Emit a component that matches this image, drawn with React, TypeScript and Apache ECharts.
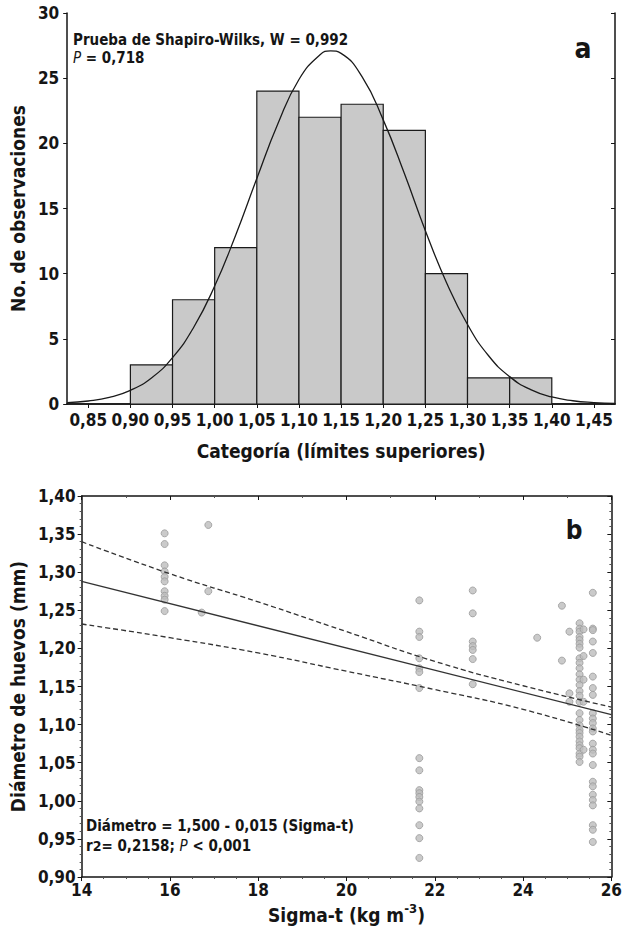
import React, { useEffect, useRef } from "react";
import * as echarts from "echarts";

// ---------- Panel a: histogram ----------
const BIN_LOWER = [0.9, 0.95, 1.0, 1.05, 1.1, 1.15, 1.2, 1.25, 1.3, 1.35];
const BIN_UPPER = [0.95, 1.0, 1.05, 1.1, 1.15, 1.2, 1.25, 1.3, 1.35, 1.4];
const BIN_COUNTS = [3, 8, 12, 24, 22, 23, 21, 10, 2, 2];
const HIST_X_TICKS = [0.85, 0.9, 0.95, 1.0, 1.05, 1.1, 1.15, 1.2, 1.25, 1.3, 1.35, 1.4, 1.45];
// fitted normal curve
const CURVE_X = [0.825, 0.85, 0.875, 0.9, 0.925, 0.95, 0.975, 1.0, 1.025, 1.05, 1.075, 1.1, 1.125, 1.1375, 1.15, 1.175, 1.2, 1.225, 1.25, 1.275, 1.3, 1.325, 1.35, 1.375, 1.4, 1.425, 1.45, 1.475];
const CURVE_Y = [0.1, 0.23, 0.51, 1.05, 2.0, 3.56, 5.87, 9.05, 12.97, 17.3, 21.5, 24.9, 26.8, 27.1, 26.9, 25.1, 21.8, 17.7, 13.3, 9.33, 6.1, 3.7, 2.1, 1.1, 0.54, 0.25, 0.11, 0.04];

// ---------- Panel b: scatter ----------
const COLUMN_SIGMA = [15.88, 16.87, 16.72, 21.65, 22.86, 24.32, 24.88, 25.05, 25.28, 25.37, 25.58];
const COLUMN_DIAM = [
  [1.351, 1.337, 1.309, 1.301, 1.294, 1.288, 1.275, 1.269, 1.264, 1.249],
  [1.362, 1.275],
  [1.247],
  [1.263, 1.222, 1.215, 1.187, 1.174, 1.169, 1.148, 1.056, 1.04, 1.014, 1.01, 1.005, 0.999, 0.99, 0.968, 0.951, 0.925],
  [1.276, 1.246, 1.209, 1.203, 1.198, 1.186, 1.153],
  [1.214],
  [1.256, 1.184],
  [1.222, 1.141, 1.13],
  [1.233, 1.226, 1.222, 1.215, 1.211, 1.206, 1.201, 1.187, 1.181, 1.174, 1.166, 1.159, 1.152, 1.144, 1.138, 1.13, 1.115, 1.106, 1.099, 1.093, 1.089, 1.084, 1.078, 1.073, 1.069, 1.062, 1.058, 1.051],
  [1.225, 1.19, 1.159, 1.13, 1.067],
  [1.273, 1.226, 1.224, 1.209, 1.194, 1.163, 1.148, 1.139, 1.115, 1.108, 1.102, 1.095, 1.091, 1.075, 1.067, 1.062, 1.047, 1.025, 1.019, 1.008, 1.001, 0.994, 0.968, 0.962, 0.946],
];
const REG_X = [14, 26];
const REG_Y = [1.288, 1.113];
const BAND_X = [14, 16, 18, 20, 22, 24, 26];
const BAND_UPPER = [1.34, 1.298, 1.261, 1.222, 1.183, 1.151, 1.123];
const BAND_LOWER = [1.232, 1.214, 1.194, 1.17, 1.146, 1.12, 1.086];

const FONT = "'Liberation Sans Narrow', 'Arial Narrow', 'DejaVu Sans Condensed', 'Roboto', sans-serif";
const INK = "#151515";

const comma = (v: number, d: number) => v.toFixed(d).replace(".", ",");

export default function App() {
  const ref = useRef<HTMLDivElement>(null);
  useEffect(() => {
    if (!ref.current) return;
    const chart = echarts.init(ref.current, null, { renderer: "svg" });

    const histData = BIN_COUNTS.map((c, i) => [BIN_LOWER[i], BIN_UPPER[i], c]);
    const curveData = CURVE_X.map((x, i) => [x, CURVE_Y[i]]);
    const scatterData: number[][] = [];
    COLUMN_SIGMA.forEach((s, i) => COLUMN_DIAM[i].forEach((d) => scatterData.push([s, d])));
    const regData = REG_X.map((x, i) => [x, REG_Y[i]]);
    const upData = BAND_X.map((x, i) => [x, BAND_UPPER[i]]);
    const loData = BAND_X.map((x, i) => [x, BAND_LOWER[i]]);

    const axisLine = { show: true, lineStyle: { color: INK, width: 1.5 } };
    const lblStyle = { color: INK, fontFamily: FONT, fontWeight: "bold" as const, fontSize: 17 };
    const nameStyle = { color: INK, fontFamily: FONT, fontWeight: "bold" as const, fontSize: 19 };

    chart.setOption({
      animation: false,
      backgroundColor: "#ffffff",
      grid: [
        { left: 64, top: 13, width: 551, height: 391 },
        { left: 74, top: 496, width: 541, height: 381 },
      ],
      xAxis: [
        {
          gridIndex: 0, type: "value", position: "bottom", min: 0.825, max: 1.475,
          axisLine, splitLine: { show: false },
          axisTick: { show: true, inside: false, length: 3, customValues: HIST_X_TICKS, lineStyle: { color: INK } },
          axisLabel: { ...lblStyle, margin: 7, customValues: HIST_X_TICKS, formatter: (v: number) => comma(v, 2) },
          name: "Categoría (límites superiores)", nameLocation: "middle", nameGap: 37, nameTextStyle: nameStyle,
        },
        {
          gridIndex: 0, type: "value", position: "top", min: 0.825, max: 1.475,
          axisLine, splitLine: { show: false },
          axisTick: { show: true, inside: true, length: 4, customValues: HIST_X_TICKS, lineStyle: { color: INK } },
          axisLabel: { show: false },
        },
        {
          gridIndex: 1, type: "value", position: "bottom", min: 14, max: 26, interval: 2,
          axisLine, splitLine: { show: false },
          axisTick: { show: true, inside: false, length: 4, lineStyle: { color: INK } },
          minorTick: { show: true, splitNumber: 4, length: 2, lineStyle: { color: "#555" } },
          axisLabel: { ...lblStyle, margin: 4 },
          name: "Sigma-t (kg m{sup|-3})",
          nameLocation: "middle", nameGap: 25,
          nameTextStyle: {
            ...nameStyle,
            rich: { sup: { color: INK, fontFamily: FONT, fontWeight: "bold", fontSize: 13, verticalAlign: "top", padding: [0, 0, 12, 0] } },
          },
        },
        {
          gridIndex: 1, type: "value", position: "top", min: 14, max: 26, interval: 2,
          axisLine, splitLine: { show: false },
          axisTick: { show: true, inside: true, length: 4, lineStyle: { color: INK } },
          minorTick: { show: true, splitNumber: 2, length: 2, lineStyle: { color: "#555" } },
          axisLabel: { show: false },
        },
      ],
      yAxis: [
        {
          gridIndex: 0, type: "value", position: "left", min: 0, max: 30, interval: 5,
          axisLine, splitLine: { show: false },
          axisTick: { show: true, inside: false, length: 4, lineStyle: { color: INK } },
          axisLabel: { ...lblStyle, margin: 8 },
          name: "No. de observaciones", nameLocation: "middle", nameGap: 31, nameRotate: 90, nameTextStyle: nameStyle,
        },
        {
          gridIndex: 0, type: "value", position: "right", min: 0, max: 30, interval: 5,
          axisLine, splitLine: { show: false },
          axisTick: { show: true, inside: true, length: 4, lineStyle: { color: INK } },
          axisLabel: { show: false },
        },
        {
          gridIndex: 1, type: "value", position: "left", min: 0.9, max: 1.4, interval: 0.05,
          axisLine, splitLine: { show: false },
          axisTick: { show: true, inside: false, length: 4, lineStyle: { color: INK } },
          minorTick: { show: true, splitNumber: 5, length: 2, lineStyle: { color: "#555" } },
          axisLabel: { ...lblStyle, margin: 6, formatter: (v: number) => comma(v, 2) },
          name: "Diámetro de huevos (mm)", nameLocation: "middle", nameGap: 44, nameRotate: 90, nameTextStyle: nameStyle,
        },
        {
          gridIndex: 1, type: "value", position: "right", min: 0.9, max: 1.4, interval: 0.05,
          axisLine, splitLine: { show: false },
          axisTick: { show: true, inside: true, length: 4, lineStyle: { color: INK } },
          minorTick: { show: true, splitNumber: 5, length: 2, lineStyle: { color: "#555" } },
          axisLabel: { show: false },
        },
      ],
      series: [
        {
          type: "custom", xAxisIndex: 0, yAxisIndex: 0, data: histData, z: 2,
          encode: { x: [0, 1], y: 2 },
          renderItem: (_p: any, api: any) => {
            const a = api.coord([api.value(0), api.value(2)]);
            const b = api.coord([api.value(1), 0]);
            return {
              type: "rect",
              shape: { x: a[0], y: a[1], width: b[0] - a[0], height: b[1] - a[1] },
              style: { fill: "#c9c9c9", stroke: "#1a1a1a", lineWidth: 1.2 },
            };
          },
        },
        {
          type: "line", xAxisIndex: 0, yAxisIndex: 0, data: curveData, smooth: true, showSymbol: false, z: 3,
          lineStyle: { color: "#1a1a1a", width: 1.3 },
        },
        {
          type: "scatter", xAxisIndex: 2, yAxisIndex: 2, data: scatterData, symbolSize: 7, z: 2,
          itemStyle: { color: "#bdbdbd", borderColor: "#9a9a9a", borderWidth: 1 },
        },
        {
          type: "line", xAxisIndex: 2, yAxisIndex: 2, data: regData, showSymbol: false, z: 3,
          lineStyle: { color: "#333", width: 1.3 },
        },
        {
          type: "line", xAxisIndex: 2, yAxisIndex: 2, data: upData, smooth: true, showSymbol: false, z: 3,
          lineStyle: { color: "#333", width: 1.3, type: [5, 3] },
        },
        {
          type: "line", xAxisIndex: 2, yAxisIndex: 2, data: loData, smooth: true, showSymbol: false, z: 3,
          lineStyle: { color: "#333", width: 1.3, type: [5, 3] },
        },
      ],
      graphic: [
        {
          type: "text", x: 73, y: 40, z: 10,
          style: { text: "Prueba de Shapiro-Wilks, W = 0,992", fill: INK, font: `bold 15px ${FONT}`, verticalAlign: "middle" },
        },
        {
          type: "text", x: 73, y: 58, z: 10,
          style: {
            text: "{i|P}{n| = 0,718}",
            verticalAlign: "middle",
            rich: {
              i: { fill: INK, fontFamily: FONT, fontSize: 15, fontStyle: "italic", lineHeight: 15 },
              n: { fill: INK, fontFamily: FONT, fontSize: 15, fontWeight: "bold", lineHeight: 15 },
            },
          },
        },
        {
          type: "text", x: 583, y: 48, z: 10,
          style: { text: "a", fill: INK, font: `bold 28px ${FONT}`, align: "center", verticalAlign: "middle" },
        },
        {
          type: "text", x: 574, y: 530, z: 10,
          style: { text: "b", fill: INK, font: `bold 26px ${FONT}`, align: "center", verticalAlign: "middle" },
        },
        {
          type: "text", x: 86, y: 826, z: 10,
          style: { text: "Diámetro = 1,500 - 0,015 (Sigma-t)", fill: INK, font: `bold 15px ${FONT}`, verticalAlign: "middle" },
        },
        {
          type: "text", x: 86, y: 846, z: 10,
          style: {
            text: "{n|r}{s|2}{n|= 0,2158; }{i|P}{n| < 0,001}",
            verticalAlign: "middle",
            rich: {
              n: { fill: INK, fontFamily: FONT, fontSize: 15, fontWeight: "bold", lineHeight: 15 },
              s: { fill: INK, fontFamily: FONT, fontSize: 14, fontWeight: "bold", lineHeight: 15, verticalAlign: "top" },
              i: { fill: INK, fontFamily: FONT, fontSize: 15, fontStyle: "italic", lineHeight: 15 },
            },
          },
        },
      ],
    });
    return () => chart.dispose();
  }, []);

  return (
    <div
      ref={ref}
      style={{ position: "fixed", left: 0, top: 0, width: 625, height: 932, background: "#fff" }}
    />
  );
}
